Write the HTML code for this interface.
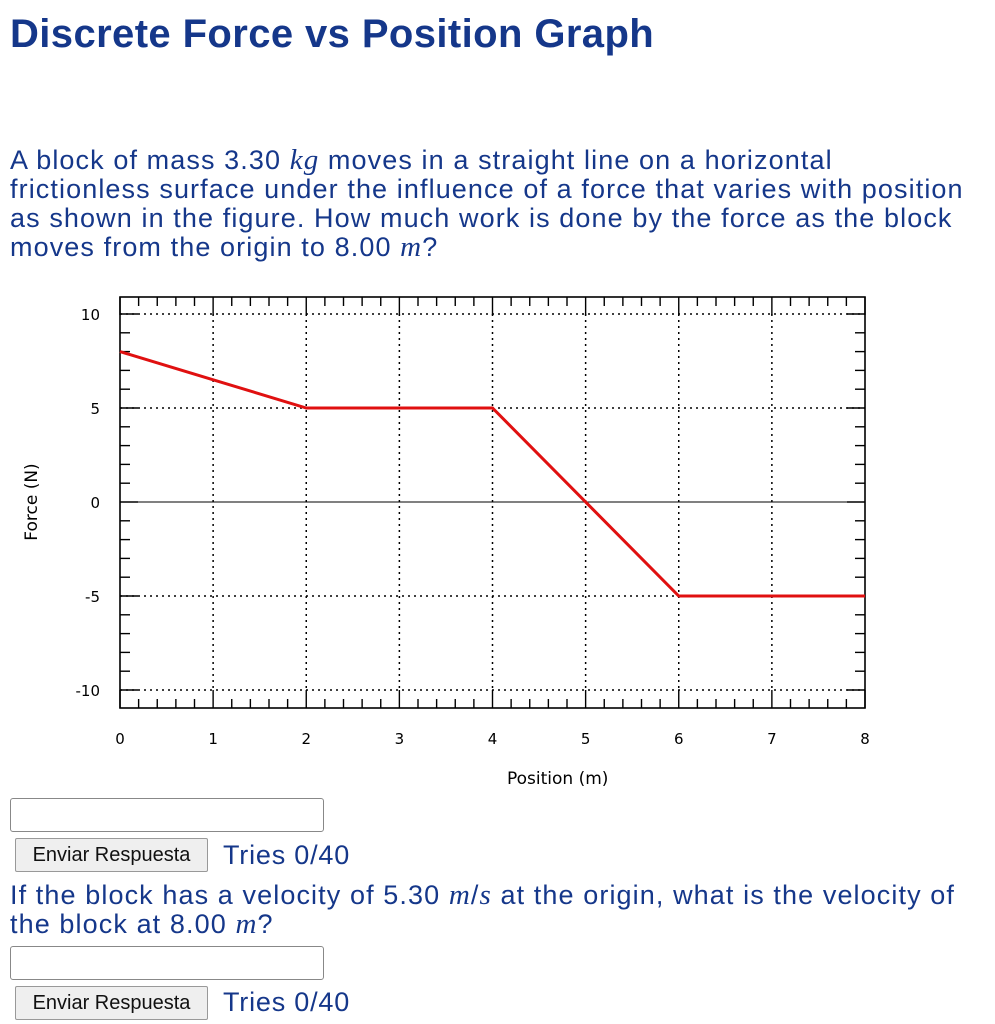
<!DOCTYPE html>
<html><head><meta charset="utf-8"><style>
body{margin:0;width:995px;height:1024px;background:#fff;font-family:"Liberation Sans",sans-serif;color:#15378a;position:relative;overflow:hidden}
h1{position:absolute;left:10px;top:12px;margin:0;font-size:40px;font-weight:bold;letter-spacing:0.4px}
.p{position:absolute;left:10px;font-size:27px;line-height:29px;margin:0;letter-spacing:1.1px;white-space:nowrap}
i{font-family:"Liberation Serif",serif;font-size:29px}
.inp{position:absolute;left:10px;width:312px;height:32px;border:1px solid #888;border-radius:3px;background:#fff}
.btn{position:absolute;left:15px;width:191px;height:32px;border:1px solid #999;border-radius:2px;background:#efefef;color:#111;font-size:20px;line-height:32px;text-align:center}
.tries{position:absolute;left:223px;font-size:27px;letter-spacing:0.8px}
</style></head><body>
<h1>Discrete Force vs Position Graph</h1>
<p class="p" style="top:146px">A block of mass 3.30 <i>kg</i> moves in a straight line on a horizontal<br>frictionless surface under the influence of a force that varies with position<br>as shown in the figure. How much work is done by the force as the block<br>moves from the origin to 8.00 <i>m</i>?</p>
<svg id="chart" width="995" height="800" style="position:absolute;left:0;top:0" font-family="DejaVu Sans, sans-serif"></svg>
<div class="inp" style="top:798px"></div>
<div class="btn" style="top:838px">Enviar Respuesta</div>
<div class="tries" style="top:840px">Tries 0/40</div>
<p class="p" style="top:881px">If the block has a velocity of 5.30 <i>m</i>/<i>s</i> at the origin, what is the velocity of<br>the block at 8.00 <i>m</i>?</p>
<div class="inp" style="top:946px"></div>
<div class="btn" style="top:986px">Enviar Respuesta</div>
<div class="tries" style="top:987px">Tries 0/40</div>
<script>
const xTicks=[0,1,2,3,4,5,6,7,8];
const yTicks=[10,5,0,-5,-10];
const posX=[0,2,4,6,8];
const forceY=[8,5,5,-5,-5];
const L=120,R=865,T=314,B=690,FT=297,FB=708;
const sx=v=>L+(v-0)/(8-0)*(R-L);
const sy=v=>B-(v+10)/20*(B-T);
const svg=document.getElementById('chart');
const NS='http://www.w3.org/2000/svg';
function mk(t,a,name){const e=document.createElementNS(NS,t);for(const k in a)e.setAttribute(k,a[k]);


svg.appendChild(e);return e;}
xTicks.forEach(v=>{if(v>0&&v<8)mk('line',{x1:sx(v),x2:sx(v),y1:T,y2:B,stroke:'#000','stroke-dasharray':'2,4','stroke-width':1.5},'x-grid-line');});
yTicks.forEach(v=>{if(v!=0)mk('line',{x1:L,x2:R,y1:sy(v),y2:sy(v),stroke:'#000','stroke-dasharray':'2,4','stroke-width':1.5},'y-grid-line');});
mk('line',{x1:L,x2:R,y1:sy(0),y2:sy(0),stroke:'#000','stroke-width':1},'zero-line');
for(let i=0;i<=40;i++){const x=sx(i*0.2),maj=i%5==0,len=maj?18:9;
mk('line',{x1:x,x2:x,y1:FT,y2:FT+len,stroke:'#000','stroke-width':1.4},'x-tick-top');
mk('line',{x1:x,x2:x,y1:FB,y2:FB-len,stroke:'#000','stroke-width':1.4},'x-tick-bottom');}
for(let i=0;i<=20;i++){const y=sy(-10+i),maj=i%5==0,len=maj?18:10;
mk('line',{x1:L,x2:L+len,y1:y,y2:y,stroke:'#000','stroke-width':1.4},'y-tick-left');
mk('line',{x1:R,x2:R-len,y1:y,y2:y,stroke:'#000','stroke-width':1.4},'y-tick-right');}
mk('rect',{x:L,y:FT,width:R-L,height:FB-FT,fill:'none',stroke:'#000','stroke-width':1.6},'plot-frame');
xTicks.forEach(v=>{const t=mk('text',{x:sx(v),y:744,'text-anchor':'middle','font-size':15,fill:'#000'},'x-tick-label');t.textContent=v;});
yTicks.forEach(v=>{const t=mk('text',{x:100,y:sy(v)+6,'text-anchor':'end','font-size':15,fill:'#000'},'y-tick-label');t.textContent=v;});
let t=mk('text',{x:sx(4.7),y:784,'text-anchor':'middle','font-size':17,fill:'#000'},'x-axis-title');t.textContent='Position (m)';
t=mk('text',{x:37,y:sy(0),'text-anchor':'middle','font-size':17,fill:'#000',transform:`rotate(-90 37 ${sy(0)})`},'y-axis-title');t.textContent='Force (N)';
mk('polyline',{points:posX.map((x,i)=>sx(x)+','+sy(forceY[i])).join(' '),fill:'none',stroke:'#e01010','stroke-width':3},'force-line');
</script>
</body></html>
